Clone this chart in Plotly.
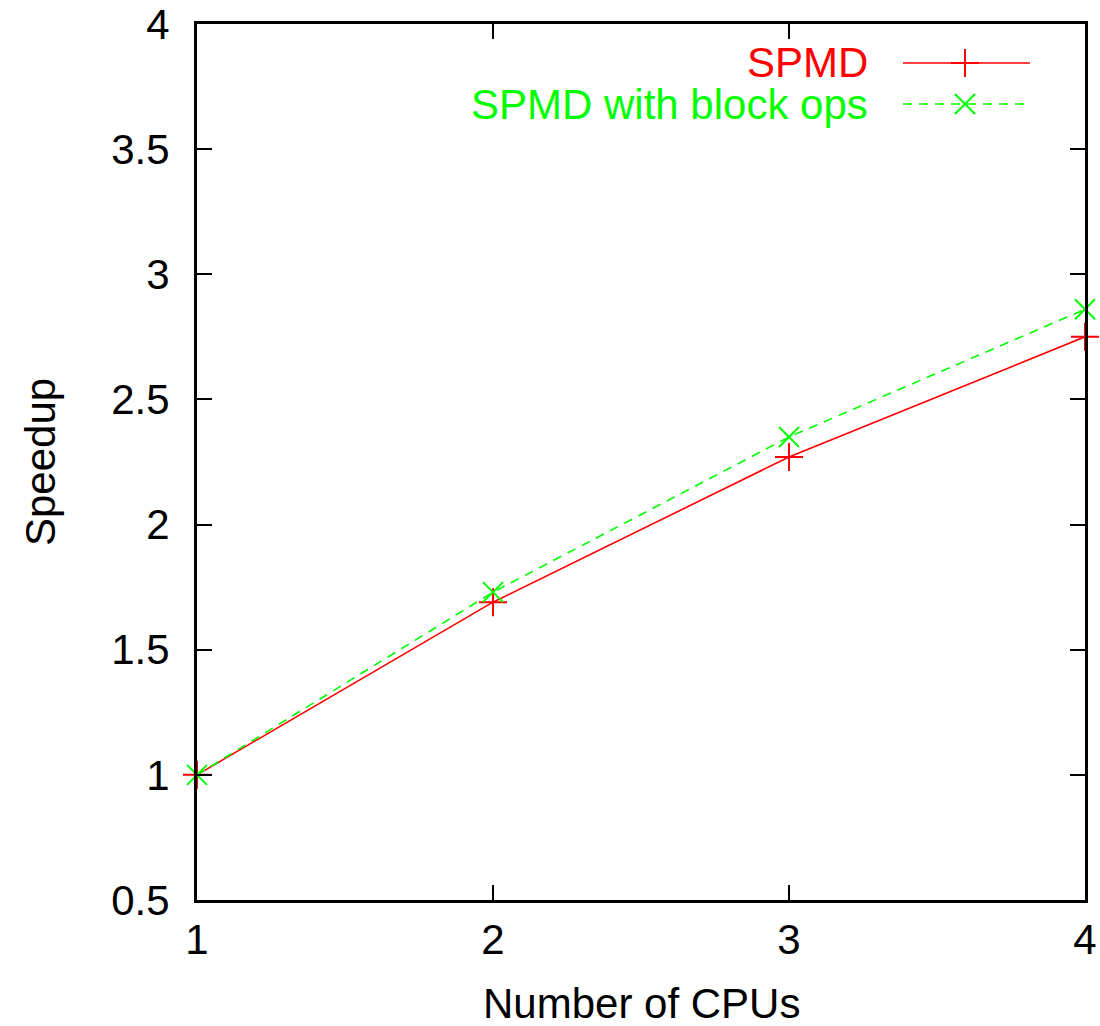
import plotly.graph_objects as go

cpus = [1, 2, 3, 4]
spmd = [1.0, 1.69, 2.27, 2.75]
spmd_block = [1.0, 1.73, 2.35, 2.86]
names = ["SPMD", "SPMD with block ops"]
colors = ["#ff0000", "#00ff00"]
yticks = [0.5, 1, 1.5, 2, 2.5, 3, 3.5, 4]
ytick_text = ["0.5", "1", "1.5", "2", "2.5", "3", "3.5", "4"]
xticks = [1, 2, 3, 4]
x_title = "Number of CPUs"
y_title = "Speedup"

FONT = "Liberation Sans, Arial, Helvetica, sans-serif"
FS = 42

L, R, T, B = 197, 15, 24, 126
W, H = 1100, 1026
pw, ph = W - L - R, H - T - B

fig = go.Figure()
fig.add_trace(go.Scatter(x=cpus, y=spmd, mode="lines+markers", name=names[0],
                         line=dict(color=colors[0], width=1.6),
                         marker=dict(symbol="cross-thin", size=20, line=dict(color=colors[0], width=2)),
                         cliponaxis=False, showlegend=False))
fig.add_trace(go.Scatter(x=cpus, y=spmd_block, mode="lines+markers", name=names[1],
                         line=dict(color=colors[1], width=1.6, dash="9px,7px"),
                         marker=dict(symbol="x-thin", size=20, line=dict(color=colors[1], width=2)),
                         cliponaxis=False, showlegend=False))

# manual gnuplot-style legend (text left, sample right), positions in pixels
leg_py = [63, 104]
text_px = 870
line_px0, line_px1, mark_px = 903, 1030, 965
symbols = ["cross-thin", "x-thin"]
dashes = ["solid", "9px,7px"]
for i in range(2):
    yy = (H - B - leg_py[i]) / ph
    fig.add_annotation(x=(text_px - L) / pw, y=yy, xref="paper", yref="paper", text=names[i],
                       showarrow=False, xanchor="right", yanchor="middle",
                       font=dict(family=FONT, size=FS, color=colors[i]))
    fig.add_shape(type="line", xref="paper", yref="paper", x0=(line_px0 - L) / pw,
                  x1=(line_px1 - L) / pw, y0=yy, y1=yy,
                  line=dict(color=colors[i], width=1.6, dash=dashes[i]))
    fig.add_trace(go.Scatter(x=[(mark_px - L) / pw], y=[yy], xaxis="x2", yaxis="y2", mode="markers",
                             marker=dict(symbol=symbols[i], size=20, line=dict(color=colors[i], width=2)),
                             showlegend=False, hoverinfo="skip"))

# axis titles
fig.add_annotation(x=0.5, y=(H - B - 1003) / ph, xref="paper", yref="paper", text=x_title,
                   showarrow=False, font=dict(family=FONT, size=FS, color="black"), yanchor="middle")
fig.add_annotation(x=(40 - L) / pw, y=0.5, xref="paper", yref="paper", text=y_title,
                   showarrow=False, textangle=-90, font=dict(family=FONT, size=FS, color="black"),
                   xanchor="center")

fig.update_layout(
    width=W, height=H,
    margin=dict(l=L, r=R, t=T, b=B, autoexpand=False),
    paper_bgcolor="white", plot_bgcolor="white",
    font=dict(family=FONT, size=FS, color="black"),
    showlegend=False,
    xaxis=dict(range=[1, 4], tickvals=xticks, ticks="inside", ticklen=15, tickwidth=2,
               tickcolor="black", showline=True, linecolor="black", linewidth=3, mirror="ticks",
               showgrid=False, zeroline=False, automargin=False,
               tickfont=dict(size=FS), ticklabelstandoff=1),
    yaxis=dict(range=[0.5, 4], tickvals=yticks, ticktext=ytick_text, ticks="inside", ticklen=15,
               tickwidth=2, tickcolor="black", showline=True, linecolor="black", linewidth=3,
               mirror="ticks", showgrid=False, zeroline=False, automargin=False,
               tickfont=dict(size=FS), ticklabelstandoff=16),
    xaxis2=dict(range=[0, 1], overlaying="x", visible=False),
    yaxis2=dict(range=[0, 1], overlaying="y", visible=False),
)
fig.write_html("out.html", config={"displayModeBar": False},
               post_script="document.body.style.margin='0px';document.body.style.overflow='hidden';")
